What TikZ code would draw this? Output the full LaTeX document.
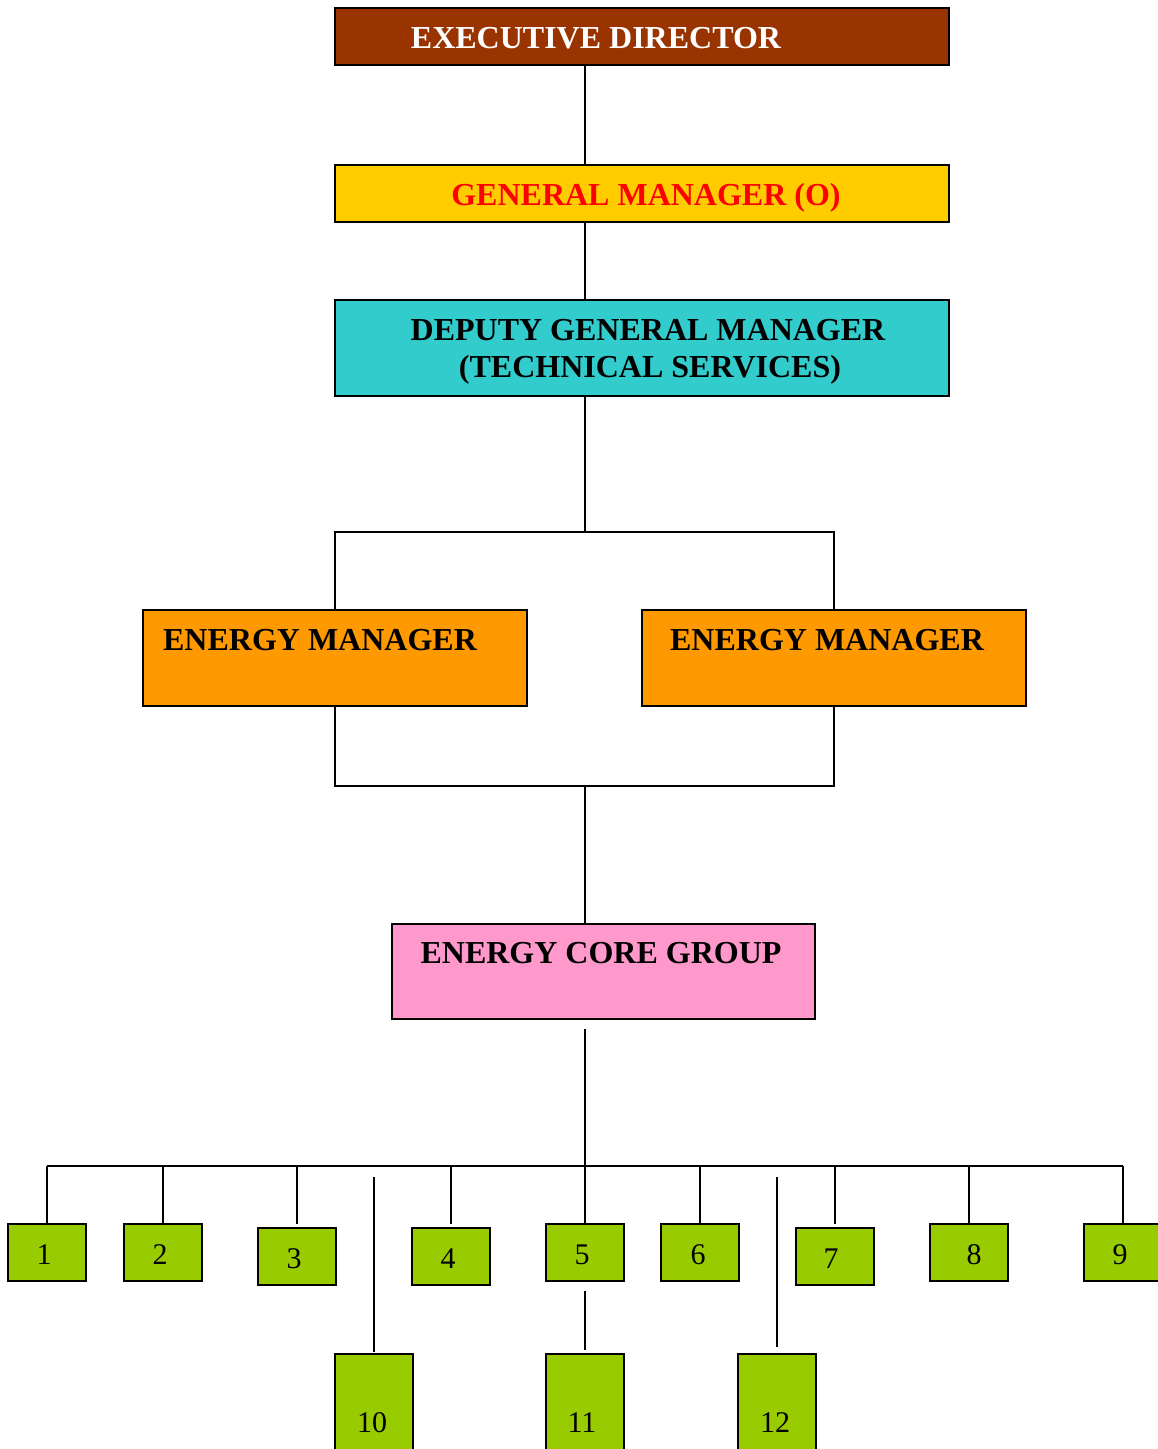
\documentclass[tikz,border=0pt]{standalone}
\usepackage{fontspec}
\setmainfont{Liberation Serif}
\definecolor{edbrown}{HTML}{993300}
\definecolor{gmyellow}{HTML}{FFCC00}
\definecolor{dgmteal}{HTML}{33CCCC}
\definecolor{emorange}{HTML}{FF9900}
\definecolor{corepink}{HTML}{FF99CC}
\definecolor{unitgreen}{HTML}{99CC00}
\begin{document}
\begin{tikzpicture}[x=0.75pt,y=-0.75pt,
  box/.style={draw=black, line width=1.3pt, inner sep=0pt, outer sep=0pt, anchor=north west},
  sz/.style 2 args={minimum width=#1*0.75pt, minimum height=#2*0.75pt},
  head/.style={font=\fontsize{24}{28}\bfseries\selectfont, anchor=base, inner sep=0pt},
  num/.style={font=\fontsize{22.5}{26}\selectfont, anchor=base, inner sep=0pt},
  conn/.style={draw=black, line width=1.5pt},
  unit/.style={box, fill=unitgreen, sz={78}{57}}]
\useasboundingbox (0,0) rectangle (1157,1449);
\fill[white] (0,0) rectangle (1157,1449);

% main boxes
\node[box, fill=edbrown, sz={614}{57}] (ED) at (335,8) {};
\node[box, fill=gmyellow, sz={614}{57}] (GM) at (335,165) {};
\node[box, fill=dgmteal, sz={614}{96}] (DGM) at (335,300) {};
\node[box, fill=emorange, sz={384}{96}] (EML) at (143,610) {};
\node[box, fill=emorange, sz={384}{96}] (EMR) at (642,610) {};
\node[box, fill=corepink, sz={423}{95}] (CORE) at (392,924) {};

% texts
\node[head, text=white] (edT) at (596,48) {EXECUTIVE DIRECTOR};
\node[head, text=red] (gmT) at (646,205) {GENERAL MANAGER (O)};
\node[head] (dgmT1) at (648,340) {DEPUTY GENERAL MANAGER};
\node[head] (dgmT2) at (650,377) {(TECHNICAL SERVICES)};
\node[head] (emlT) at (320,650) {ENERGY MANAGER};
\node[head] (emrT) at (827,650) {ENERGY MANAGER};
\node[head] (coreT) at (601,963) {ENERGY CORE GROUP};

% unit boxes
\node[unit] (b1) at (8,1224) {};
\node[unit] (b2) at (124,1224) {};
\node[unit] (b3) at (258,1228) {};
\node[unit] (b4) at (412,1228) {};
\node[unit] (b5) at (546,1224) {};
\node[unit] (b6) at (661,1224) {};
\node[unit] (b7) at (796,1228) {};
\node[unit] (b8) at (930,1224) {};
\node[unit] (b9) at (1084,1224) {};
\node[unit, sz={78}{120}] (b10) at (335,1354) {};
\node[unit, sz={78}{120}] (b11) at (546,1354) {};
\node[unit, sz={78}{120}] (b12) at (738,1354) {};

\node[num] (n1) at (44,1264) {1};
\node[num] (n2) at (160,1264) {2};
\node[num] (n3) at (294,1268) {3};
\node[num] (n4) at (448,1268) {4};
\node[num] (n5) at (582,1264) {5};
\node[num] (n6) at (698,1264) {6};
\node[num] (n7) at (831,1268) {7};
\node[num] (n8) at (974,1264) {8};
\node[num] (n9) at (1120,1264) {9};
\node[num] (n10) at (372,1432) {10};
\node[num] (n11) at (582,1432) {11};
\node[num] (n12) at (775,1432) {12};

% coordinates
\coordinate (spine) at (585,0);
\coordinate (topbar) at (585,532);
\coordinate (botbar) at (585,786);
\coordinate (coreout) at (585,1029);
\coordinate (bus) at (585,1166);
\coordinate (t10) at (374,1177);
\coordinate (t12) at (777,1177);

% connectors
\draw[conn] (ED.south -| spine) -- (GM.north -| spine);
\draw[conn] (GM.south -| spine) -- (DGM.north -| spine);
\draw[conn] (DGM.south -| spine) -- (topbar);
\draw[conn] (EML.north) -- (EML.north |- topbar) -- (EMR.north |- topbar) -- (EMR.north);
\draw[conn] (EML.south) -- (EML.south |- botbar) -- (EMR.south |- botbar) -- (EMR.south);
\draw[conn] (botbar) -- (CORE.north -| spine);
\draw[conn] (coreout) -- (bus);
\draw[conn] (b1.north |- bus) -- (b9.north |- bus);
\foreach \b in {b1,b2,b5,b6,b8,b9}{
  \draw[conn] (\b.north |- bus) -- (\b.north);
}
\foreach \b in {b3,b4,b7}{
  \draw[conn, shorten >=3pt] (\b.north |- bus) -- (\b.north);
}
\draw[conn, shorten >=1.5pt] (t10) -- (b10.north);
\draw[conn, shorten <=7.5pt, shorten >=3pt] (b5.south) -- (b11.north);
\draw[conn, shorten >=5pt] (t12) -- (b12.north);
\end{tikzpicture}
\end{document}
